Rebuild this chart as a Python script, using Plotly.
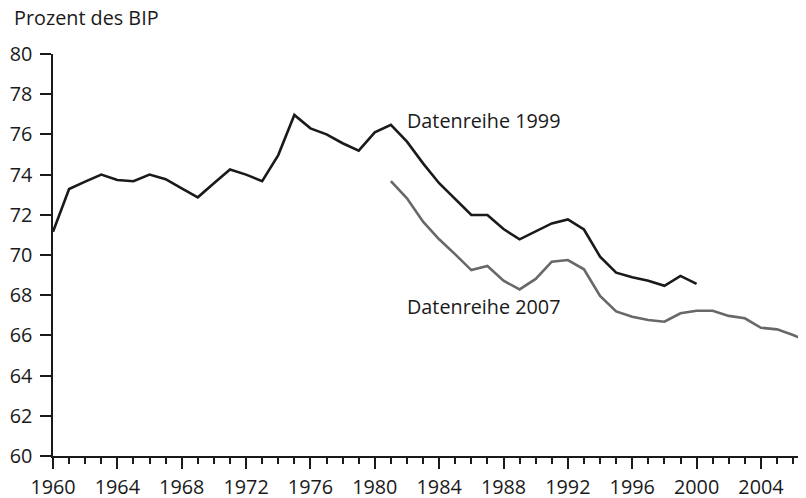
import plotly.graph_objects as go

years_1999 = list(range(1960, 2001))
values_1999 = [71.16, 73.28, 73.65, 74.0, 73.73, 73.67, 74.0, 73.77, 73.32, 72.87,
               73.57, 74.25, 74.0, 73.67, 74.97, 76.97, 76.3, 76.0, 75.56, 75.19,
               76.1, 76.48, 75.64, 74.56, 73.57, 72.79, 71.99, 71.99, 71.29, 70.78,
               71.19, 71.57, 71.77, 71.27, 69.92, 69.12, 68.89, 68.72, 68.47, 68.96,
               68.56]

years_2007 = list(range(1981, 2008))
values_2007 = [73.68, 72.82, 71.66, 70.78, 70.03, 69.25, 69.45, 68.72, 68.29, 68.81,
               69.67, 69.75, 69.29, 67.96, 67.19, 66.93, 66.77, 66.68, 67.1, 67.23,
               67.23, 66.97, 66.85, 66.38, 66.3, 66.02, 65.68]

label_1999 = "Datenreihe 1999"
label_2007 = "Datenreihe 2007"
y_title = "Prozent des BIP"

FONT = "Open Sans"
FS = 19.8

fig = go.Figure()
fig.add_trace(go.Scatter(x=years_1999, y=values_1999, mode="lines",
                         line=dict(color="#1a1a1a", width=2.6), name=label_1999,
                         showlegend=False))
fig.add_trace(go.Scatter(x=years_2007, y=values_2007, mode="lines",
                         line=dict(color="#686868", width=2.6), name=label_2007,
                         showlegend=False))

fig.add_annotation(x=1981.9, y=76.7, text=label_1999, showarrow=False,
                   xanchor="left", yanchor="middle",
                   font=dict(family=FONT, size=FS, color="#1a1a1a"))
fig.add_annotation(x=1981.9, y=67.45, text=label_2007, showarrow=False,
                   xanchor="left", yanchor="middle",
                   font=dict(family=FONT, size=FS, color="#1a1a1a"))
fig.add_annotation(xref="paper", yref="paper", x=-0.0545, y=1.0896, text=y_title,
                   showarrow=False, xanchor="left", yanchor="middle",
                   font=dict(family=FONT, size=FS, color="#1a1a1a"))

fig.update_layout(
    width=798, height=490,
    margin=dict(l=45, r=0, t=46, b=42, autoexpand=False),
    paper_bgcolor="white", plot_bgcolor="white",
    font=dict(family=FONT, size=FS, color="#1a1a1a"),
    xaxis=dict(range=[1960, 2006.8], tick0=1960, dtick=4, showgrid=False,
               zeroline=False, showline=True, linecolor="#1a1a1a", linewidth=1.5,
               ticks="outside", ticklen=11, tickwidth=1.5, tickcolor="#1a1a1a",
               ticklabelstandoff=1,
               minor=dict(ticks="outside", ticklen=6, tickwidth=1.5,
                          tickcolor="#1a1a1a", dtick=1, tick0=1960),
               tickfont=dict(family=FONT, size=FS, color="#1a1a1a")),
    yaxis=dict(range=[60, 80], tick0=60, dtick=2, showgrid=False,
               zeroline=False, showline=True, linecolor="#1a1a1a", linewidth=1.5,
               ticks="outside", ticklen=11, tickwidth=1.5, tickcolor="#1a1a1a",
               ticklabelstandoff=4,
               tickfont=dict(family=FONT, size=FS, color="#1a1a1a")),
)

fig.write_html("out.html")
